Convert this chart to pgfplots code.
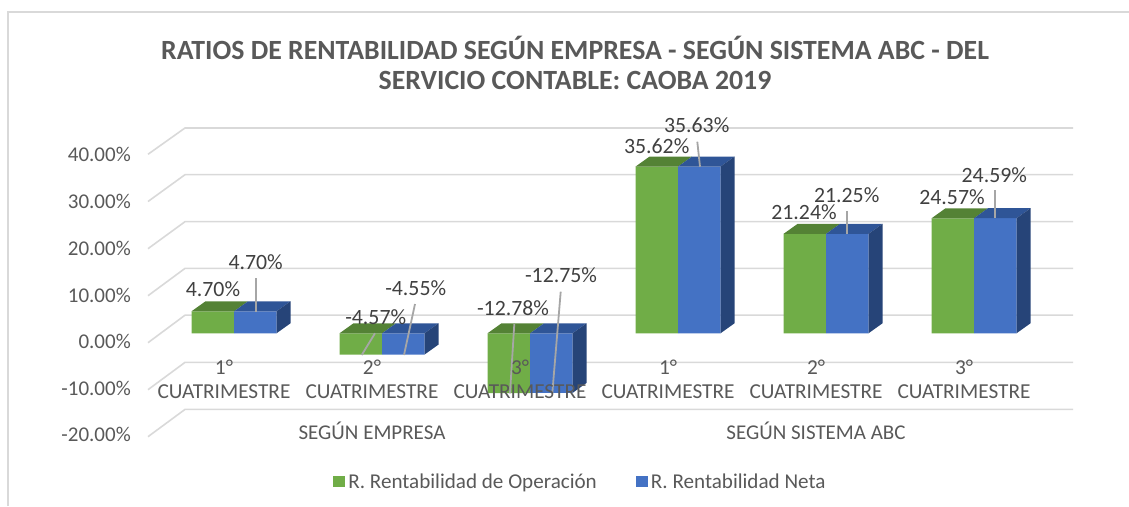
\documentclass[border=0pt]{standalone}
\usepackage{pgfplots}
\pgfplotsset{compat=1.18}
\usepackage{fontspec}
\setmainfont{Carlito}
\definecolor{gridc}{HTML}{D9D9D9}
\definecolor{txt}{HTML}{595959}
\definecolor{dark}{HTML}{404040}
\definecolor{leader}{HTML}{A6A6A6}
\definecolor{gf}{HTML}{70AD47}
\definecolor{gt}{HTML}{548235}
\definecolor{bf}{HTML}{4472C4}
\definecolor{bt}{HTML}{2F5597}
\definecolor{bs}{HTML}{264478}
\newcommand{\PX}[2]{(axis cs:#1,{(333.3-#2)/4.68})}
\newcommand{\TL}[2]{\node[anchor=east,text=txt,font=\fontsize{21}{23}\selectfont,inner sep=0pt] at \PX{131}{#1} {#2};}
\newcommand{\DL}[3]{\node[text=dark,font=\fontsize{21.8}{23}\selectfont,inner sep=0pt] at \PX{#1}{#2} {#3};}
\newcommand{\LD}[4]{\draw[leader,line width=1.8pt] \PX{#1}{#2} -- \PX{#3}{#4};}
\newcommand{\CL}[2]{\node[text=txt,font=\fontsize{21.3}{23}\selectfont,inner sep=0pt] at \PX{#1}{367} {#2};
 \node[text=txt,font=\fontsize{21.3}{23}\selectfont,inner sep=0pt] at \PX{#1}{391.7} {CUATRIMESTRE};}
\begin{document}
\begin{tikzpicture}
\path[use as bounding box] (0,0) rectangle (1129pt,506pt);
\begin{axis}[
  at={(0,0)},anchor=south west,
  scale only axis,width=1129pt,height=506pt,
  xmin=0,xmax=1129,ymin=-36.9,ymax=71.22,
  hide axis,clip=false,
  legend columns=2,
  legend style={at={(0.295,0.048)},anchor=west,draw=none,fill=none,inner sep=0pt,
    font=\fontsize{21.1}{23}\selectfont\color{txt},
    /tikz/every even column/.append style={column sep=36pt},
    nodes={inner xsep=3pt,inner ysep=0pt}},
  legend image code/.code={\fill[#1] (0pt,-5.5pt) rectangle (12pt,5.5pt);},
]
% floor and wall grid lines
\addplot[gridc,line width=1.6pt,forget plot] coordinates {(148,38.25) (185,43.87) (1073,43.87)};
\addplot[gridc,line width=1.6pt,forget plot] coordinates {(148,28.16) (185,33.89) (1073,33.89)};
\addplot[gridc,line width=1.6pt,forget plot] coordinates {(148,18.08) (185,23.85) (1073,23.85)};
\addplot[gridc,line width=1.6pt,forget plot] coordinates {(148,8.03) (185,13.87) (1073,13.87)};
\addplot[gridc,line width=1.6pt,forget plot] coordinates {(148,-2.01) (185,3.87) (1073,3.87)};
\addplot[gridc,line width=1.6pt,forget plot] coordinates {(148,-12.05) (185,-6.21) (1073,-6.21)};
\addplot[gridc,line width=1.6pt,forget plot] coordinates {(148,-22.09) (185,-16.26) (1073,-16.26)};
% bar fronts
\addplot[ybar,bar width=42.5pt,bar shift=-21.25pt,fill=gf,draw=none] coordinates {(234,4.70) (382,-4.57) (530,-12.78) (678,35.62) (826,21.24) (974,24.57)};
\addlegendentry{R. Rentabilidad de Operación}
\addplot[ybar,bar width=42.5pt,bar shift=21.25pt,fill=bf,draw=none] coordinates {(234,4.70) (382,-4.55) (530,-12.75) (678,35.63) (826,21.25) (974,24.59)};
\addlegendentry{R. Rentabilidad Neta}
% green tops
\addplot[fill=gt,draw=none,forget plot] coordinates {(191.5,4.70) (234,4.70) (248,6.84) (205.5,6.84)} -- cycle;
\addplot[fill=gt,draw=none,forget plot] coordinates {(339.5,0) (382,0) (396,2.14) (353.5,2.14)} -- cycle;
\addplot[fill=gt,draw=none,forget plot] coordinates {(487.5,0) (530,0) (544,2.14) (501.5,2.14)} -- cycle;
\addplot[fill=gt,draw=none,forget plot] coordinates {(635.5,35.62) (678,35.62) (692,37.76) (649.5,37.76)} -- cycle;
\addplot[fill=gt,draw=none,forget plot] coordinates {(783.5,21.24) (826,21.24) (840,23.38) (797.5,23.38)} -- cycle;
\addplot[fill=gt,draw=none,forget plot] coordinates {(931.5,24.57) (974,24.57) (988,26.71) (945.5,26.71)} -- cycle;
% blue tops
\addplot[fill=bt,draw=none,forget plot] coordinates {(234,4.70) (276.5,4.70) (290.5,6.84) (248,6.84)} -- cycle;
\addplot[fill=bt,draw=none,forget plot] coordinates {(382,0) (424.5,0) (438.5,2.14) (396,2.14)} -- cycle;
\addplot[fill=bt,draw=none,forget plot] coordinates {(530,0) (572.5,0) (586.5,2.14) (544,2.14)} -- cycle;
\addplot[fill=bt,draw=none,forget plot] coordinates {(678,35.63) (720.5,35.63) (734.5,37.77) (692,37.77)} -- cycle;
\addplot[fill=bt,draw=none,forget plot] coordinates {(826,21.25) (868.5,21.25) (882.5,23.39) (840,23.39)} -- cycle;
\addplot[fill=bt,draw=none,forget plot] coordinates {(974,24.59) (1016.5,24.59) (1030.5,26.73) (988,26.73)} -- cycle;
% blue sides
\addplot[fill=bs,draw=none,forget plot] coordinates {(276.5,0) (276.5,4.70) (290.5,6.84) (290.5,2.14)} -- cycle;
\addplot[fill=bs,draw=none,forget plot] coordinates {(424.5,-4.55) (424.5,0) (438.5,2.14) (438.5,-2.41)} -- cycle;
\addplot[fill=bs,draw=none,forget plot] coordinates {(572.5,-12.75) (572.5,0) (586.5,2.14) (586.5,-10.61)} -- cycle;
\addplot[fill=bs,draw=none,forget plot] coordinates {(720.5,0) (720.5,35.63) (734.5,37.77) (734.5,2.14)} -- cycle;
\addplot[fill=bs,draw=none,forget plot] coordinates {(868.5,0) (868.5,21.25) (882.5,23.39) (882.5,2.14)} -- cycle;
\addplot[fill=bs,draw=none,forget plot] coordinates {(1016.5,0) (1016.5,24.59) (1030.5,26.73) (1030.5,2.14)} -- cycle;
% frame lines
\draw[gridc,line width=1.6pt] \PX{8}{506} -- \PX{8}{12} -- \PX{1129}{12};
% leaders
\LD{256}{278.3}{256}{311.7}
\LD{375}{333.3}{361.7}{355}
\LD{415}{304}{404}{355}
\LD{514.3}{324}{510}{393.3}
\LD{560.7}{291.7}{552.3}{393.3}
\LD{697.3}{141.7}{700}{166.7}
\LD{847.3}{211}{847.3}{234.3}
\LD{995.3}{190}{995.3}{218.3}
% y tick labels
\TL{154.7}{40.00\%}
\TL{201.5}{30.00\%}
\TL{248.3}{20.00\%}
\TL{295}{10.00\%}
\TL{341.7}{0.00\%}
\TL{388.5}{-10.00\%}
\TL{434.7}{-20.00\%}
% data labels
\DL{213}{289}{4.70\%}
\DL{255.7}{262}{4.70\%}
\DL{375.7}{317}{-4.57\%}
\DL{415.7}{288.5}{-4.55\%}
\DL{513}{308.3}{-12.78\%}
\DL{561}{275.3}{-12.75\%}
\DL{656.7}{146}{35.62\%}
\DL{696.7}{125.3}{35.63\%}
\DL{804}{212.6}{21.24\%}
\DL{846.7}{195.3}{21.25\%}
\DL{952}{197}{24.57\%}
\DL{994.3}{175.3}{24.59\%}
% category labels
\CL{224}{1°}
\CL{372}{2°}
\CL{520}{3°}
\CL{668}{1°}
\CL{816}{2°}
\CL{964}{3°}
\node[text=txt,font=\fontsize{21}{23}\selectfont,inner sep=0pt] at \PX{372}{431} {SEGÚN EMPRESA};
\node[text=txt,font=\fontsize{21}{23}\selectfont,inner sep=0pt] at \PX{816}{431} {SEGÚN SISTEMA ABC};
% title
\node[text=txt,font=\fontsize{27.8}{30}\selectfont\bfseries,inner sep=0pt] at \PX{575}{47.5} {RATIOS DE RENTABILIDAD SEGÚN EMPRESA - SEGÚN SISTEMA ABC - DEL};
\node[text=txt,font=\fontsize{27.8}{30}\selectfont\bfseries,inner sep=0pt] at \PX{575}{80} {SERVICIO CONTABLE: CAOBA 2019};
\end{axis}
\end{tikzpicture}
\end{document}
